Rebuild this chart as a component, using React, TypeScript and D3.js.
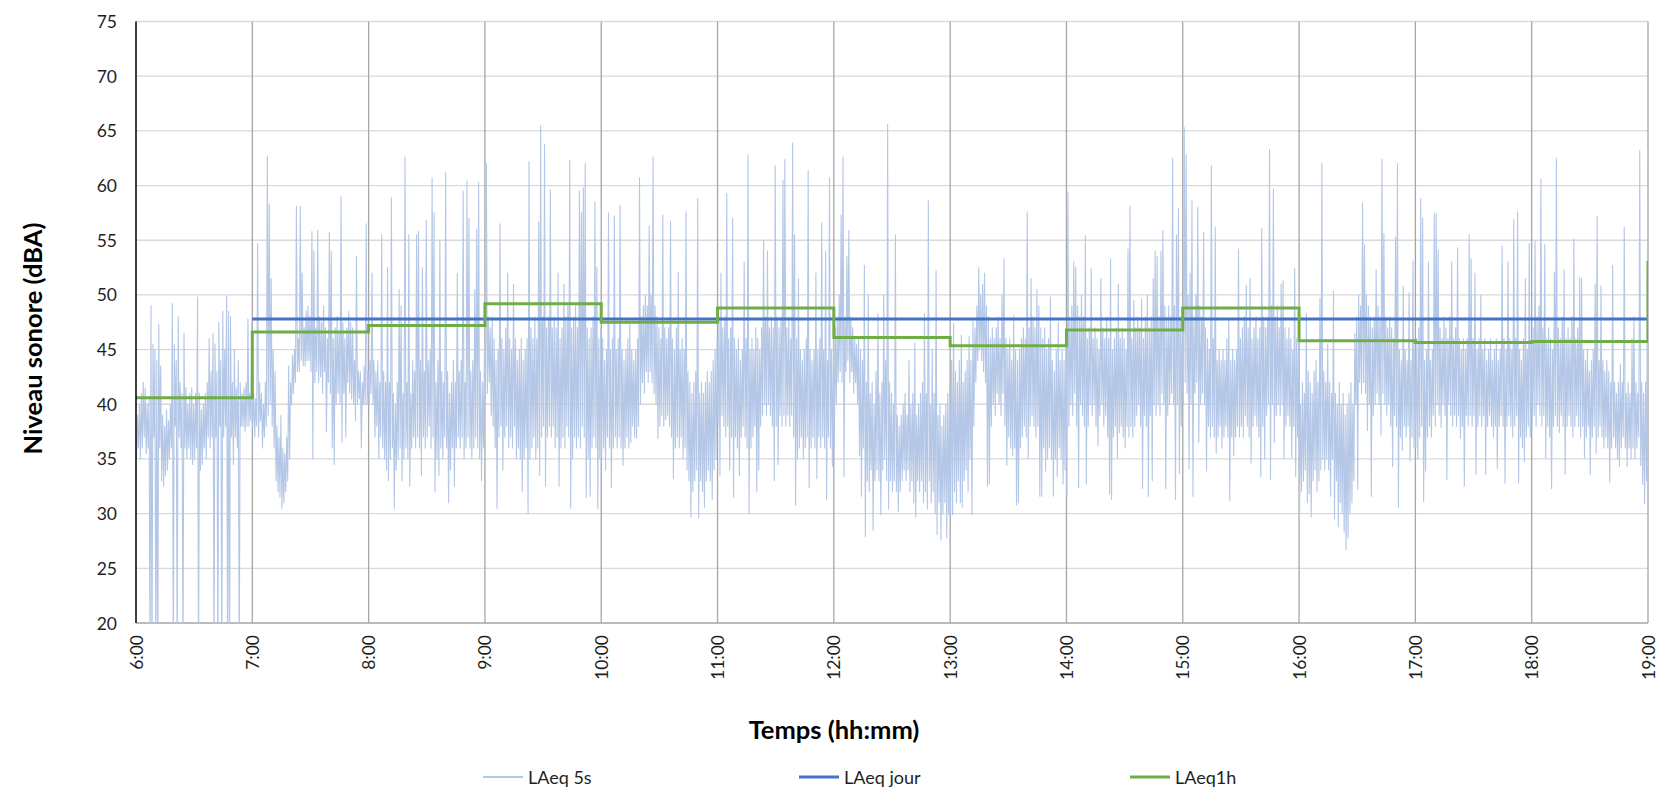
import React from 'react';
import * as d3 from 'd3';

// ---------- data ----------
const hours = [6, 7, 8, 9, 10, 11, 12, 13, 14, 15, 16, 17, 18, 19];
const hourLabels = hours.map((h) => `${h}:00`);
const yTicks = [20, 25, 30, 35, 40, 45, 50, 55, 60, 65, 70, 75];

const laeqJourValue = 47.8;
const laeqJourStart = 7;
const laeqJourEnd = 19;

const laeq1hStarts = [6, 7, 8, 9, 10, 11, 12, 13, 14, 15, 16, 17, 18];
const laeq1hValues = [40.6, 46.6, 47.2, 49.2, 47.5, 48.8, 46.1, 45.35, 46.8, 48.8, 45.8, 45.65, 45.75];
const laeq1hEndTime = 19;
const laeq1hEndValue = 53.1;

// LAeq 5s read minute by minute as (low, high) pairs, one array per hour
const h06 = [35,39, 36,40, 35,41, 36,42, 37,41.5, 35.5,40, 36,40.5, 15,49, 15,45.5, 37,45,
15,44, 15,47.3, 36,43.5, 33,39, 32.5,38, 33.5,39.5, 34,38.5, 35,40, 36,49.2, 15,45.5,
38,44, 15,48, 37,42, 36,41, 15,46.5, 36,41.5, 35,40, 36,41, 35,41.5, 34.5,40,
35,41, 36,49.8, 15,41, 34,39.5, 34.5,40, 36,41, 35,42, 37,46, 36,43, 37,46.5,
15,45.5, 37,43, 15,47.5, 38,44, 15,48.5, 37,45, 38,49.9, 15,48.5, 15,48, 37,42,
34.5,45, 37,41.5, 36,44, 15,42, 38,41, 38,41.5, 37.5,42, 38,47.8, 38,41, 38.5,47.5];
const h07 = [38,41, 37,40.5, 38,54.7, 37,42, 38.5,41, 36,40, 37,42, 38,62.7, 39,58.3, 40,51.5,
38,45, 36,43, 33,38, 32,37, 31.5,39, 30.5,36, 31,35.5, 32,37, 33,43.5, 35,42,
40,44.5, 41,45, 42,58.1, 43,46, 43,58.1, 44,52, 43.5,47, 43.5,48.5, 44,49, 44,48,
43,55.8, 35,54, 42,47, 43,55.9, 42,48, 42.5,47.5, 41,49, 43,47, 37.5,46, 42,55.7,
41,54, 36,46, 34.5,47, 40,48, 41,46.5, 40,59, 36.5,47.5, 41,46, 37,47, 42,48.5,
41,47.5, 40.5,47, 40,44, 38.5,53.5, 40,43, 40.5,43, 36,42, 40,43.5, 40,56.5, 40,43];
const h08 = [40,44, 41,52, 40,44, 37,43, 38,44, 35,42, 37,55.5, 36,43, 35,42, 34,52.5,
33,42, 35,58.9, 36,41, 30.5,40, 34,42, 35,50.5, 36,49, 33,41, 35,62.6, 36,42,
35,55.5, 32.5,41, 36,44, 37,43, 36,55.5, 37,55.8, 36,44, 33.5,52.5, 37,43, 36,56.8,
37,44, 38,45, 36,60.7, 37,57.5, 32,42, 35,44, 33.5,55, 36,43, 35,42, 37,61.2,
36,43, 31,41, 34,42, 36,44, 32.5,42, 36,52, 37,43, 36,44, 37,59.5, 35,42,
36,60.4, 37,57, 36,43, 35,44, 36,50.5, 37,56, 36,60.3, 35,43, 33,42, 36,45];
const h09 = [40,62, 41,48, 42,47, 39,48, 38,46, 36,44, 30.5,45, 37,56.5, 38,46, 34,45,
37,47, 38,52, 36,46, 37,45, 36,51, 38,46, 35,44, 36,45, 35,46, 32,44,
35,45, 36,46, 30,62.2, 35,47, 36,46, 37,48, 35,46, 36,56.7, 33.5,65.5, 37,48,
38,63.8, 32.5,47, 37,48, 38,59.6, 37,47, 38,48, 36,47, 37,52, 32.5,46, 36,47,
37,51, 36,48, 38,49, 37,62.3, 30.5,47, 35,48, 37,49, 36,47, 37,59.5, 36,57.5,
38,59.8, 37,62, 31.5,47, 35,46, 31.6,47, 36,48, 37,58.5, 36,52.5, 30.5,46, 35,47];
const h10 = [35,46, 36,44, 34,45, 37,57.5, 36,45, 32.4,46, 36,57.2, 37,45, 36,46, 37,58.2,
36,45, 34.4,44, 36,45, 37,46, 36,47.5, 36.5,45, 38,44, 37,45, 36.9,46, 38,60.7,
40,48, 42,49, 41,50, 43,49, 42,56.3, 43,50, 42,62.6, 41,49, 40,48, 36.9,47,
38,46, 39,57.3, 38,47, 38.6,46, 39,47, 38,56.7, 37,46, 33.2,45, 36,47, 37,52.1,
36,45, 37,46, 35,45, 36,57.6, 34,43, 33,42, 29.7,41, 32,42, 33,43, 34,58.8,
29.6,41, 33,42, 32,41, 30.6,42, 33,43, 34,42, 33,43, 31.3,44, 34,45, 35,46];
const h11 = [38,48, 33.5,52, 39,47, 38,48, 37,59.3, 38,46, 34,47, 37,57, 31.5,46, 37,45,
36,46, 33.5,44, 37,45, 38,53, 37,46, 36,62.8, 30,45, 36,46, 37,45, 38,47,
32,46, 34,45, 38,47, 39,55, 40,48, 39,54, 40,47, 39,48, 38,47, 33,61.8,
38,48, 34.5,47, 39,48, 38,60.5, 39,62.4, 38,47, 39,48, 38,46, 39,63.9, 37,55.5,
30.8,46, 35,51.5, 36,45, 37,44, 35,45, 36,46, 37,61.4, 32.4,45, 36,44, 37,45,
36,52, 33.2,45, 37,46, 36,56.6, 37,45, 36,54, 31.3,44, 37,60.7, 36,45, 34.3,46];
const h12 = [36,47, 40,48, 42,50, 43,57.3, 42,62.6, 33.4,48, 43,53.5, 44,55.9, 42,48, 43,47,
41,46, 42,45.5, 40,46, 35.3,45, 31.6,44, 36,52.7, 27.9,42, 33,50, 32,41, 34,42,
28.5,40, 33,43, 34,48.3, 33,41, 29.9,42, 34,50, 35,44, 33,65.6, 30.4,42, 33,41,
32,40, 33,55.5, 32,39, 30.2,38, 32,39, 33,40, 34,41, 33,39, 34,44, 32,40,
33,41, 31,45.6, 29.7,39, 33,40, 32,41, 33,42, 31,48.3, 32,41, 30.4,58.6, 33,40,
31,45, 32,41, 30,52.2, 28.1,39, 31,40, 27.6,38, 30,39, 31,40, 27.8,41, 30,42];
const h13 = [30,44, 29.9,47.4, 32,43, 31,42, 33,44, 31,46.3, 30.6,42, 33,43, 34,44, 32,46.2,
35,44, 29.9,47.6, 38,47, 42,49, 44,52.5, 45,50, 44,51, 43,52, 42,49, 32.5,48,
32.7,46, 38,47, 40,46, 39,47, 41,48, 40,46, 39,50, 41,53.3, 38,46, 34.4,45,
37,46, 36,44, 35.3,48.1, 36,45, 30.8,44, 31,45, 36,46, 37,47, 38,46, 37,57.6,
35.1,47, 38,51.5, 39,48, 38,47, 37,50.5, 38,49, 31.6,47, 31.6,46, 36,47, 33.9,45,
35,46, 36,49.8, 35,44, 31.6,43, 35,45, 33.4,47.5, 36,44, 35,45, 32.7,44, 34,46];
const h14 = [31.5,59.4, 38,48, 40,49, 39,53, 41,52.5, 38,49, 32.4,48, 40,50, 39,48, 38,55.4,
32.7,46, 38,47, 40,52.4, 39,46, 40,47, 38,46, 36.2,45, 39,51.5, 40,47, 38,46,
39,48, 37,46, 31.8,53.3, 31.3,45, 37,46, 38,47, 35.1,51, 37.4,46, 38,47, 37,46,
36,45, 38,54.2, 37,58.1, 38,46, 37,49.5, 38,47, 39,48, 40,47, 38,49.6, 32.3,46,
39,48, 38,50, 31.6,47, 39,48, 33,51.5, 40,54, 39,53.5, 40,48, 39,54, 41,55.9,
40,49, 32.3,48, 39,49, 40,48, 41,62.5, 40,49, 31.3,55.5, 40,57.9, 33.7,48, 38,49];
const h15 = [40,65.3, 42,62.8, 41,50, 34.1,52, 40,58.6, 31.6,48, 41,50, 42,58, 36.5,49, 40,48,
41,55.7, 40,47, 33.9,46, 38,45, 37,61.8, 38,46, 37,56.2, 35.5,44, 37,45, 38,44,
36,45, 37,44, 38,46, 37,47.8, 31.2,44, 37,45, 35.3,44, 37,45, 38,54.2, 37,46,
38,47, 37,48, 39,50.9, 38,47, 37,51.5, 34.6,46, 38,47, 39,48, 38,46, 37,47,
33.4,56.1, 38,48, 35,47, 39,48, 40,63.3, 33.1,49, 40,59.7, 36.5,48, 39,49, 40,47,
39,51, 40,51.3, 35.1,47, 38,46, 39,47, 38,46, 35.1,45, 38,52.4, 33.4,46, 37,47];
const h16 = [29.9,40, 32,42, 33,41, 34,48.3, 31,43, 31.8,42, 29.7,41, 33,43, 34,44, 32,42,
33,49.7, 34,62, 35,43, 34,42, 35,45.5, 34,42, 31.6,41, 35,50.3, 29.5,41, 33,40,
28.8,42, 31,40, 30,41, 28.3,39, 26.7,40, 27.8,41, 30,42, 31,40, 33,46.5, 40,48,
32.2,50, 42,49, 41,58.4, 42,54.6, 41,50, 37.6,49, 40,48, 31.6,47, 39,48, 40,52.3,
41,49, 40,48, 37.2,62.4, 41,55.6, 40,48, 39,47, 40,48, 38,47, 34.3,46, 39,55.3,
38,62, 30.6,45, 37,44, 35.8,50.8, 38,45, 37,44, 38,50.2, 34.8,44, 37,53.1, 36,45];
const h17 = [36,46, 35,47, 37,58.8, 38,57, 31.1,44, 33.9,45, 37,53, 38,44, 37,45, 39,57.5,
38,57.4, 40,54.1, 39,47, 37.9,46, 40,48, 39,47, 33.1,46, 40,48, 39,53, 38,46,
39,47, 38,54.3, 39,46, 36.9,45, 38,46, 32.5,45, 39,46, 38,55.5, 39,53.3, 38,46,
39,52, 33.6,45, 38,46, 39,50, 38,45, 39,46, 33.6,44, 38,45, 39,46, 38,44,
37,45, 38,46, 34.1,44, 38,45, 39,54.5, 38,46, 32.8,45, 38,53, 39,46, 38,45,
37,56.9, 38,46, 39,57.6, 32.8,45, 37,44, 36,46, 34.8,51.5, 37,45, 38,54.7, 37,46];
const h18 = [38,47, 39,54.9, 38,48, 40,49, 39,60.6, 38,47, 39,54.6, 35.1,46, 38,47, 37,46,
32.3,45, 38,52.1, 39,62.5, 38,47, 37.4,46, 39,48, 38,52.3, 33.6,46, 38,47, 39,46,
38,48, 37,55.1, 38,46, 39,47, 38,51.6, 37,51.5, 38,45, 35.1,44, 37,45, 38,43,
33.6,44, 37,45, 38,51, 35.5,57.2, 37,44, 38,50.8, 37,44, 36,43, 37,44, 36,43,
32.9,42, 36,52.7, 37,42, 36,41, 35,42, 34.3,43.7, 36,42, 37,56.2, 36,41, 34.3,42,
36,41, 35,46, 36,48, 35,42, 36,41, 37,63.2, 34.4,42, 32.7,41, 30.9,42, 33,54.4];
const laeq5sByHour = [h06, h07, h08, h09, h10, h11, h12, h13, h14, h15, h16, h17, h18];
const laeq5sFirstHour = 6;
const laeq5sLastValue = 38;

const legendItems = [
  { label: 'LAeq 5s', color: '#B4C7E7', width: 2.2 },
  { label: 'LAeq jour', color: '#4472C4', width: 3 },
  { label: 'LAeq1h', color: '#70AD47', width: 3 },
];

// ---------- layout ----------
const W = 1660;
const H = 788;
const PL = 136;
const PR = 1648;
const PT = 21.5;
const PB = 623;
const FONT = 'Lato, "Open Sans", sans-serif';

export default function App() {
  const x = d3.scaleLinear().domain([6, 19]).range([PL, PR]);
  const y = d3.scaleLinear().domain([20, 75]).range([PB, PT]);

  const pts5s: [number, number][] = [];
  laeq5sByHour.forEach((arr, i) => {
    const n = arr.length;
    arr.forEach((v, j) => {
      pts5s.push([laeq5sFirstHour + i + (j + 0.5) / n, v]);
    });
  });
  pts5s.push([19, laeq5sLastValue]);

  const line = d3
    .line<[number, number]>()
    .x((d) => x(d[0]))
    .y((d) => y(d[1]));
  const stepLine = d3
    .line<[number, number]>()
    .x((d) => x(d[0]))
    .y((d) => y(d[1]))
    .curve(d3.curveStepAfter);

  const pts1h: [number, number][] = laeq1hStarts.map((s, i) => [s, laeq1hValues[i]] as [number, number]);
  pts1h.push([laeq1hEndTime, laeq1hEndValue]);

  const ptsJour: [number, number][] = [
    [laeqJourStart, laeqJourValue],
    [laeqJourEnd, laeqJourValue],
  ];

  const legendX = [483, 799, 1130];
  const legendY = 777;

  return (
    <svg
      width={W}
      height={H}
      style={{ position: 'absolute', left: 0, top: 0, background: '#fff' }}
      fontFamily={FONT}
    >
      <defs>
        <clipPath id="plotClip">
          <rect x={PL} y={PT} width={PR - PL} height={PB - PT} />
        </clipPath>
      </defs>

      {/* horizontal gridlines */}
      {yTicks
        .filter((t) => t !== 20)
        .map((t) => (
          <line key={'hg' + t} x1={PL} x2={PR} y1={y(t)} y2={y(t)} stroke="#d9d9d9" strokeWidth={1.3} />
        ))}
      {/* vertical gridlines */}
      {hours
        .filter((h) => h !== 6)
        .map((h) => (
          <line key={'vg' + h} x1={x(h)} x2={x(h)} y1={PT} y2={PB} stroke="#a6a6a6" strokeWidth={1.3} />
        ))}
      {/* bottom axis */}
      <line x1={PL} x2={PR} y1={PB} y2={PB} stroke="#a6a6a6" strokeWidth={1.3} />

      {/* series */}
      <g clipPath="url(#plotClip)">
        <path d={line(pts5s) || ''} fill="none" stroke="#B4C7E7" strokeWidth={1.1} strokeLinejoin="round" />
        <path d={line(ptsJour) || ''} fill="none" stroke="#4472C4" strokeWidth={3} />
        <path d={stepLine(pts1h) || ''} fill="none" stroke="#70AD47" strokeWidth={3} />
      </g>

      {/* left axis */}
      <line x1={PL} x2={PL} y1={PT} y2={PB} stroke="#000" strokeWidth={1.5} />

      {/* y tick labels */}
      {yTicks.map((t) => (
        <text
          key={'yt' + t}
          x={117}
          y={y(t)}
          textAnchor="end"
          dominantBaseline="central"
          fontSize={17.5}
          fill="#1f1f1f"
        >
          {t}
        </text>
      ))}

      {/* x tick labels */}
      {hours.map((h, i) => (
        <text
          key={'xt' + h}
          transform={`translate(${x(h)},${PB + 12}) rotate(-90)`}
          textAnchor="end"
          dominantBaseline="central"
          fontSize={17.5}
          fill="#1f1f1f"
        >
          {hourLabels[i]}
        </text>
      ))}

      {/* axis titles */}
      <text
        transform={`translate(42,338.5) rotate(-90)`}
        textAnchor="middle"
        fontSize={25.5}
        fontWeight="bold"
        fill="#000"
      >
        Niveau sonore (dBA)
      </text>
      <text x={834} y={739} textAnchor="middle" fontSize={25.5} fontWeight="bold" fill="#000">
        Temps (hh:mm)
      </text>

      {/* legend */}
      {legendItems.map((it, i) => (
        <g key={it.label}>
          <line
            x1={legendX[i]}
            x2={legendX[i] + 40}
            y1={legendY}
            y2={legendY}
            stroke={it.color}
            strokeWidth={it.width}
          />
          <text x={legendX[i] + 45} y={legendY} dominantBaseline="central" fontSize={18} fill="#1f1f1f">
            {it.label}
          </text>
        </g>
      ))}
    </svg>
  );
}
